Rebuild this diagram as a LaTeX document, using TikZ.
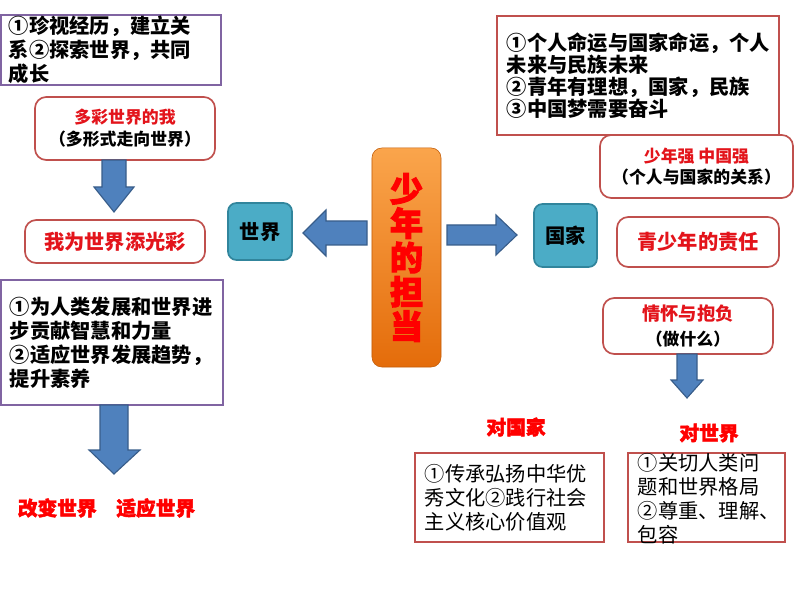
\documentclass[tikz,border=0pt]{standalone}
\usepackage{fontspec}
\setmainfont{Noto Sans CJK SC}
\newfontfamily\heavyfont{Noto Sans CJK SC}[BoldFeatures={FakeBold=2.2}]
\newfontfamily\corefont{Noto Sans CJK SC}[BoldFeatures={FakeBold=3.2}]

\definecolor{framered}{HTML}{C0504D}
\definecolor{framepurple}{HTML}{8064A2}
\definecolor{titlered}{HTML}{E3141B}
\definecolor{tealfill}{HTML}{4BACC6}
\definecolor{tealedge}{HTML}{31859C}
\definecolor{arrowblue}{HTML}{4F81BD}
\definecolor{arrowedge}{HTML}{385D8A}
\definecolor{orangetop}{HTML}{FAA54C}
\definecolor{orangebot}{HTML}{E46C0A}

\begin{document}
\begin{tikzpicture}
        [
        x=0.025cm, y=-0.025cm,
        font=\bfseries\fontsize{14.4}{17}\selectfont,
        note/.style={rectangle, draw=#1, line width=1.2pt, fill=white, align=left, inner ysep=0pt},
        note/.default=framepurple,
        topic/.style={rectangle, rounded corners=8pt, draw=framered, line width=1.2pt, fill=white, align=center},
        hub/.style={rectangle, rounded corners=6pt, draw=tealedge, line width=1.2pt, fill=tealfill},
        core/.style={rectangle, rounded corners=7pt, top color=orangetop, bottom color=orangebot, draw=orangebot!85!black, align=center, text=red},
        title/.style={text=red, font=\heavyfont\bfseries\fontsize{14}{17}\selectfont},
        blockarrow/.style={fill=arrowblue, draw=arrowedge, line width=0.8pt},
        ]
                \useasboundingbox (0,0) rectangle (794,596);

                % centre
                \node[core, minimum width=1.725cm, minimum height=5.475cm,
                      font=\corefont\bfseries\fontsize{23.5}{24.4}\selectfont] (core) at (406.5,257.5) {少\\年\\的\\担\\当};
                \node[hub, minimum width=1.6cm, minimum height=1.425cm] (world) at (260,231.5) {世界};
                \node[hub, minimum width=1.575cm, minimum height=1.575cm] (nation) at (565.5,235.5) {国家};

                % world side
                \node[note, minimum width=5.5cm, minimum height=1.75cm, text width=5.1cm, inner xsep=0.2cm] (cherish) at (111,50)
                        {①珍视经历，建立关\\系②探索世界，共同\\成长};
                \node[topic, minimum width=4.5cm, minimum height=1.575cm, font=\bfseries\fontsize{12}{15.6}\selectfont] (colorful) at (125,128.5)
                        {\textcolor{titlered}{多彩世界的我}\\（多形式走向世界）};
                \node[topic, minimum width=4.5cm, minimum height=1.075cm, text=titlered] (shine) at (115,241.5) {我为世界添光彩};
                \node[note, minimum width=5.55cm, minimum height=3.125cm, text width=5.1cm, inner xsep=0.225cm] (contribute) at (112,342.5)
                        {①为人类发展和世界进\\步贡献智慧和力量\\②适应世界发展趋势，\\提升素养};
                \node[title] (change) at (106.5,508) {改变世界\hspace{1em}适应世界};

                % nation side
                \node[note=framered, minimum width=7.05cm, minimum height=2.975cm, text width=6.55cm, inner xsep=0.25cm,
                      font=\bfseries\fontsize{14.4}{15.5}\selectfont] (destiny) at (638,75.5)
                        {①个人命运与国家命运，个人\\未来与民族未来\\②青年有理想，国家，民族\\③中国梦需要奋斗};
                \node[topic, minimum width=4.825cm, minimum height=1.575cm, font=\bfseries\fontsize{12}{15}\selectfont] (strong) at (696.5,166.5)
                        {\textcolor{titlered}{少年强 中国强}\\（个人与国家的关系）};
                \node[topic, minimum width=4.05cm, minimum height=1.25cm, text=titlered] (duty) at (698,242) {青少年的责任};
                \node[topic, minimum width=4.25cm, minimum height=1.4cm, font=\bfseries\fontsize{13}{17.5}\selectfont] (ambition) at (688,326)
                        {\textcolor{titlered}{情怀与抱负}\\{\fontsize{12}{17.5}\selectfont（做什么）}};
                \node[title] (fornation) at (516,427) {对国家};
                \node[title] (forworld) at (709,433) {对世界};
                \node[note=framered, minimum width=4.725cm, minimum height=2.225cm, text width=4.225cm, inner xsep=0.25cm,
                      font=\fontsize{14.4}{17}\selectfont] (heritage) at (509.5,497.5)
                        {①传承弘扬中华优\\秀文化②践行社会\\主义核心价值观};
                \node[note=framered, minimum width=3.925cm, minimum height=2.225cm] (care) at (706.5,497.5) {};
                \node[align=left, text width=3.425cm, inner sep=0pt, font=\fontsize{14.4}{17}\selectfont] (caretext) at (706.5,499)
                        {①关切人类问\\题和世界格局\\②尊重、理解、\\包容};

                % arrows
                \draw[blockarrow] (102,160) -- (126,160) -- (126,187) -- (134,187) -- (114,212) -- (94,187) -- (102,187) -- cycle;
                \draw[blockarrow] (367,221) -- (326,221) -- (326,210) -- (303,233) -- (326,256) -- (326,245) -- (367,245) -- cycle;
                \draw[blockarrow] (447,225) -- (496,225) -- (496,215) -- (517,235) -- (496,255) -- (496,245) -- (447,245) -- cycle;
                \draw[blockarrow] (100,405) -- (128,405) -- (128,450) -- (140,450) -- (114,474) -- (89,450) -- (100,450) -- cycle;
                \draw[blockarrow] (677,354) -- (697,354) -- (697,380) -- (703,380) -- (687,398) -- (671,380) -- (677,380) -- cycle;
        \end{tikzpicture}
\end{document}
